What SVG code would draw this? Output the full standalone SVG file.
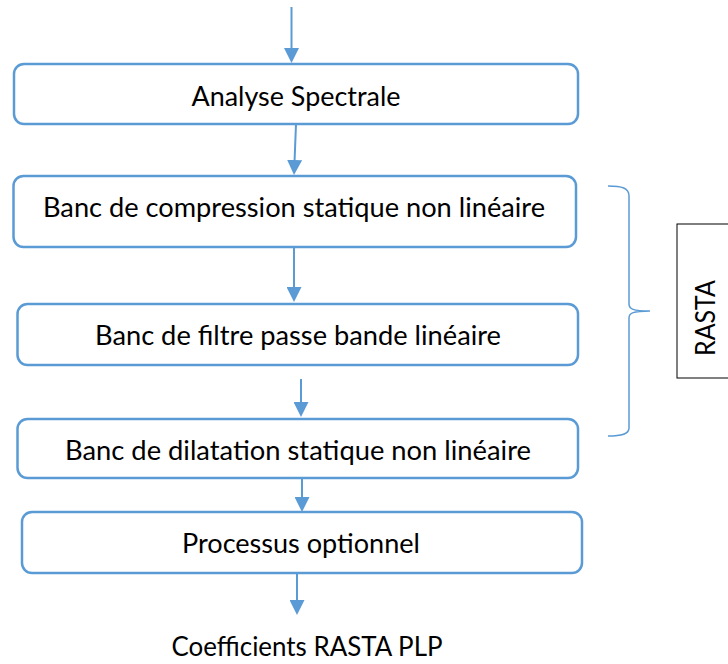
<svg xmlns="http://www.w3.org/2000/svg" width="728" height="664" viewBox="0 0 728 664">
  <style>
    .box { fill: #ffffff; stroke: #5B9BD5; stroke-width: 2.5; }
    .lbl { font-family: Lato, "Liberation Sans", sans-serif; font-size: 26px; fill: #000000; text-anchor: middle; }
    .flow { stroke: #5B9BD5; stroke-width: 2; fill: none; marker-end: url(#head); }
    .brace { stroke: #5B9BD5; stroke-width: 1.5; fill: none; }
  </style>
  <defs>
    <marker id="head" markerUnits="userSpaceOnUse" markerWidth="15" markerHeight="15" refX="5" refY="7.5" orient="auto">
      <path d="M0,0 L15,7.5 L0,15 z" fill="#5B9BD5"/>
    </marker>
  </defs>
  <rect width="728" height="664" fill="#ffffff"/>

  <!-- processing chain -->
  <g id="analyse">
    <rect class="box" x="14" y="64" width="564" height="60" rx="10"/>
    <text class="lbl" x="296" y="106" textLength="209" lengthAdjust="spacingAndGlyphs">Analyse Spectrale</text>
  </g>
  <g id="compression">
    <rect class="box" x="13.5" y="176" width="562.5" height="71" rx="10"/>
    <text class="lbl" x="294" y="217" textLength="502" lengthAdjust="spacingAndGlyphs">Banc de compression statique non linéaire</text>
  </g>
  <g id="filtre">
    <rect class="box" x="17.5" y="304" width="560.5" height="61" rx="10"/>
    <text class="lbl" x="298" y="345" textLength="406" lengthAdjust="spacingAndGlyphs">Banc de filtre passe bande linéaire</text>
  </g>
  <g id="dilatation">
    <rect class="box" x="17.5" y="419" width="560.5" height="59" rx="10"/>
    <text class="lbl" x="298" y="460" textLength="466" lengthAdjust="spacingAndGlyphs">Banc de dilatation statique non linéaire</text>
  </g>
  <g id="optionnel">
    <rect class="box" x="22" y="512" width="560" height="61" rx="10"/>
    <text class="lbl" x="301" y="553" textLength="238" lengthAdjust="spacingAndGlyphs">Processus optionnel</text>
  </g>
  <g id="sortie">
    <text class="lbl" x="307" y="656" textLength="271" lengthAdjust="spacingAndGlyphs">Coefficients RASTA PLP</text>
  </g>

  <!-- RASTA grouping -->
  <g id="rasta">
    <path class="brace" d="M608,186 C622,186 629,188 629,196 L629,304 C629,309 633,311 650,311 C633,311 629,313 629,318 L629,428 C629,434 622,436 608,436"/>
    <rect x="677" y="224" width="70" height="154" fill="#ffffff" stroke="#000000" stroke-width="1"/>
    <text class="lbl" transform="translate(715,318) rotate(-90)" x="0" y="0" textLength="76" lengthAdjust="spacingAndGlyphs">RASTA</text>
  </g>

  <!-- connectors -->
  <g id="connectors">
    <line class="flow" x1="291.5" y1="7" x2="291.5" y2="53"/>
    <line class="flow" x1="296" y1="124" x2="294.4" y2="165"/>
    <line class="flow" x1="294" y1="247" x2="294" y2="292"/>
    <line class="flow" x1="301" y1="379" x2="301" y2="407"/>
    <line class="flow" x1="302" y1="478" x2="302" y2="502"/>
    <line class="flow" x1="297" y1="573" x2="297" y2="605"/>
  </g>
</svg>
